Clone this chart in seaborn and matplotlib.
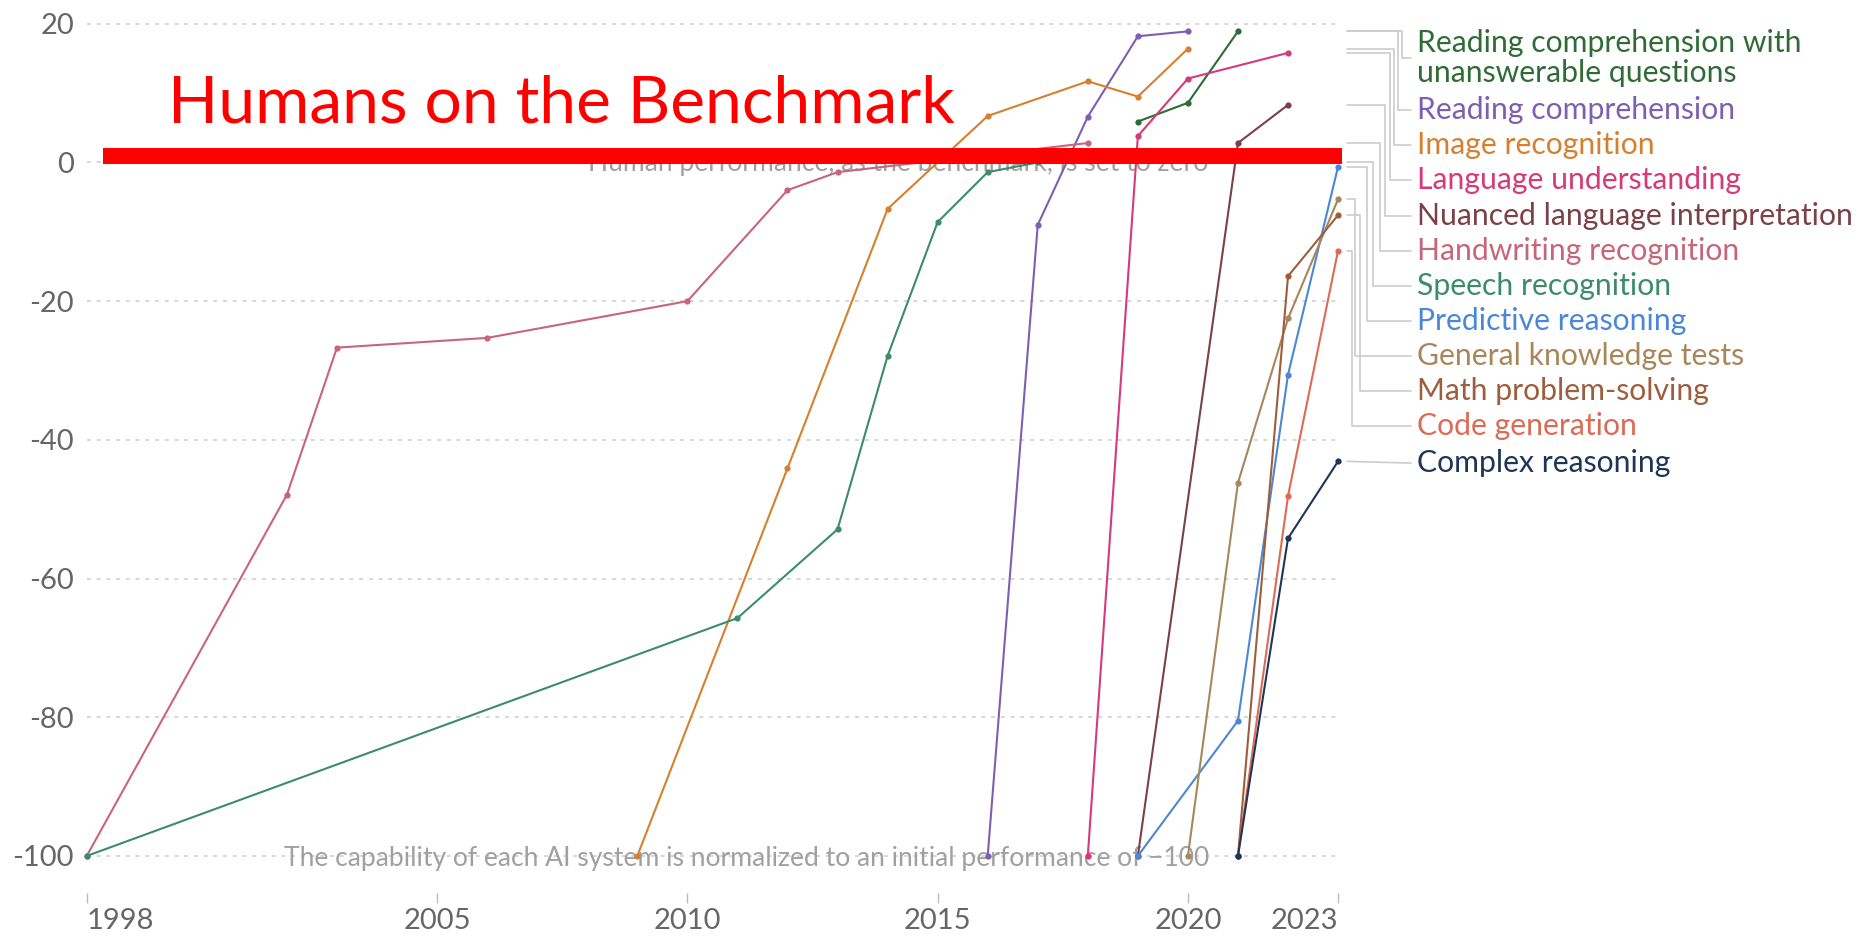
import matplotlib
matplotlib.use("Agg")
import matplotlib.pyplot as plt
import numpy as np
import pandas as pd
import seaborn as sns

# series, listed in legend order (top to bottom)
labels = [
    "Reading comprehension with\nunanswerable questions",
    "Reading comprehension",
    "Image recognition",
    "Language understanding",
    "Nuanced language interpretation",
    "Handwriting recognition",
    "Speech recognition",
    "Predictive reasoning",
    "General knowledge tests",
    "Math problem-solving",
    "Code generation",
    "Complex reasoning",
]

unans_years = [2019, 2020, 2021]
unans_vals = [5.9, 8.6, 18.9]
reading_years = [2016, 2017, 2018, 2019, 2020]
reading_vals = [-100, -9.0, 6.6, 18.2, 18.9]
image_years = [2009, 2012, 2014, 2016, 2018, 2019, 2020]
image_vals = [-100, -44.1, -6.7, 6.7, 11.7, 9.5, 16.4]
language_years = [2018, 2019, 2020, 2022]
language_vals = [-100, 3.8, 12.1, 15.8]
nuanced_years = [2019, 2021, 2022]
nuanced_vals = [-100, 2.8, 8.3]
handwriting_years = [1998, 2002, 2003, 2006, 2010, 2012, 2013, 2018]
handwriting_vals = [-100, -47.9, -26.7, -25.3, -20.0, -4.0, -1.4, 2.8]
speech_years = [1998, 2011, 2013, 2014, 2015, 2016, 2017]
speech_vals = [-100, -65.7, -52.9, -27.9, -8.6, -1.4, 0.0]
predictive_years = [2019, 2021, 2022, 2023]
predictive_vals = [-100, -80.5, -30.6, -0.6]
general_years = [2020, 2021, 2022, 2023]
general_vals = [-100, -46.2, -22.5, -5.3]
math_years = [2021, 2022, 2023]
math_vals = [-100, -16.4, -7.6]
code_years = [2021, 2022, 2023]
code_vals = [-100, -48.1, -12.7]
complex_years = [2021, 2022, 2023]
complex_vals = [-100, -54.2, -43.1]

all_years = [unans_years, reading_years, image_years, language_years, nuanced_years,
             handwriting_years, speech_years, predictive_years, general_years,
             math_years, code_years, complex_years]
all_vals = [unans_vals, reading_vals, image_vals, language_vals, nuanced_vals,
            handwriting_vals, speech_vals, predictive_vals, general_vals,
            math_vals, code_vals, complex_vals]

colors = ["#2f6b35", "#7d5fb2", "#d6802f", "#d63a79", "#7b4048", "#c8657c",
          "#3c8c6c", "#4b87d6", "#a8865a", "#9c5e3d", "#dd6a55", "#1d3557"]

x_ticks = [1998, 2005, 2010, 2015, 2020, 2023]
y_ticks = [20, 0, -20, -40, -60, -80, -100]

rows = []
for lab, yrs, vals in zip(labels, all_years, all_vals):
    for yr, v in zip(yrs, vals):
        rows.append({"task": lab, "year": yr, "value": v})
df = pd.DataFrame(rows)

sns.set_style("white")
plt.rcParams["font.family"] = ["Lato", "DejaVu Sans"]

fig = plt.figure(figsize=(18.62, 9.41), dpi=100)
ax = fig.add_axes([0.0412, 0.0609, 0.6828, 0.9286])
ax.set_xlim(1997.8, 2023.2)
ax.set_ylim(-104, 22)

# dotted gridlines
ax.hlines(y_ticks, x_ticks[0], x_ticks[-1], colors="#d6d6d6", linewidth=1.4,
          linestyles=(0, (2, 3)), zorder=0)

sns.lineplot(data=df, x="year", y="value", hue="task", hue_order=labels,
             palette=dict(zip(labels, colors)), estimator=None, sort=False,
             marker="o", markersize=4.5, markeredgewidth=0, linewidth=1.5,
             legend=False, ax=ax, zorder=3)

# notes on the chart
ax.text(2008.02, -1.2, "Human performance, as the benchmark, is set to zero",
        fontsize=19.1, color="#a0a0a0", ha="left", va="baseline", zorder=1)
ax.text(2001.95, -101.5,
        "The capability of each AI system is normalized to an initial performance of \u2212100",
        fontsize=19.1, color="#a0a0a0", ha="left", va="baseline", zorder=1)

# red benchmark bar and title
ax.plot([1998.32, 2023.07], [1.0, 1.0], color="#ff0000", linewidth=11.5,
        solid_capstyle="butt", zorder=5, clip_on=False)
ax.text(1999.62, 5.73, "Humans on the Benchmark", fontsize=47.5, color="#ff0000",
        ha="left", va="baseline", zorder=6)

# axes styling
for s in ["top", "right", "left"]:
    ax.spines[s].set_visible(False)
ax.spines["bottom"].set_visible(False)
ax.spines["bottom"].set_position(("outward", 6.7))
ax.set_xticks(x_ticks)
ax.set_xticklabels([str(t) for t in x_ticks])
ax.set_yticks(y_ticks)
ax.set_yticklabels([str(t) for t in y_ticks])
ax.tick_params(axis="x", direction="out", length=7, width=1, color="#bbbbbb",
               pad=4, labelsize=21, labelcolor="#666666", bottom=True)
ax.tick_params(axis="y", length=0, pad=2, labelsize=21, labelcolor="#666666")
xl = ax.get_xticklabels()
xl[0].set_ha("left")
xl[-1].set_ha("right")
ax.set_xlabel("")
ax.set_ylabel("")

# labels with connector lines
px_per_year = ax.get_position().width * 1862 / (2023.2 - 1997.8)
def px_to_year(px):
    return 1997.8 + (px - ax.get_position().x0 * 1862) / px_per_year

slot = 5.05
label_y = []
y = 17.6
for lab in labels[:-1]:
    n = lab.count("\n") + 1
    label_y.append(y - (n - 1) * slot / 2)
    y -= n * slot
label_y.append(complex_vals[-1] - 0.25)

elbow_px = [1402, 1398, 1394, 1390, 1385, 1380, 1373, 1367, 1355, 1360, 1352, None]
x_start = px_to_year(1347)
x_lab_end = px_to_year(1411)
x_text = px_to_year(1417)
for lab, vals, col, ly, ex in zip(labels, all_vals, colors, label_y, elbow_px):
    end_v = vals[-1]
    if ex is None:
        xs = [x_start, x_lab_end]
        ys = [end_v, ly]
    else:
        e = px_to_year(ex)
        xs = [x_start, e, e, x_lab_end]
        ys = [end_v, end_v, ly, ly]
    ax.plot(xs, ys, color="#cccccc", linewidth=1.2, clip_on=False, zorder=1)
    ax.text(x_text, ly, lab, fontsize=21.7, color=col, ha="left", va="center",
            linespacing=1.12, clip_on=False)

fig.savefig("out.png", dpi=100)
